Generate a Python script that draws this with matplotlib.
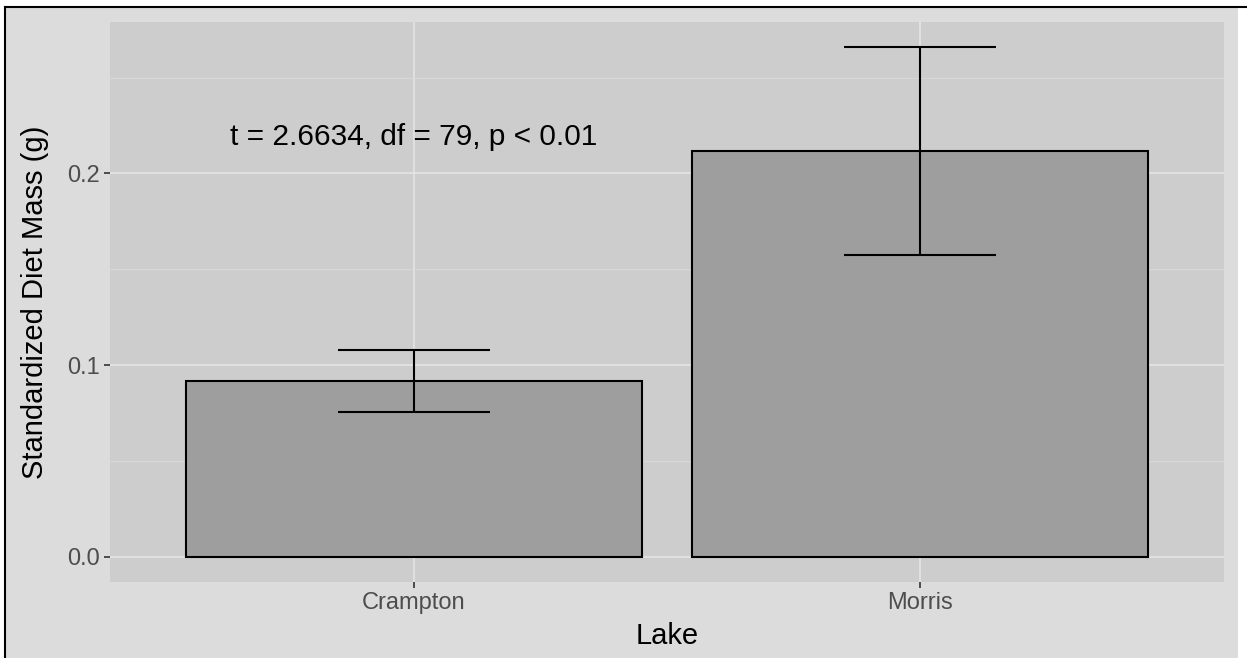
import matplotlib
matplotlib.use("Agg")
import matplotlib.pyplot as plt
from matplotlib.patches import Rectangle
from matplotlib.lines import Line2D
import numpy as np

plt.rcParams['font.family'] = ['Liberation Sans', 'DejaVu Sans']

lakes = ["Crampton", "Morris"]
means = [0.0916, 0.2115]
lower = [0.0754, 0.1576]
upper = [0.1079, 0.2658]
yticks = [0.0, 0.1, 0.2]
ytick_labels = ["0.0", "0.1", "0.2"]
minor_ticks = [0.05, 0.15, 0.25]
annot_text = "t = 2.6634, df = 79, p < 0.01"
annot_x, annot_y = 1.0, 0.219

W, H = 1247, 658
fig = plt.figure(figsize=(W / 100, H / 100), dpi=100, facecolor="white")

# outer background and border lines
fig.patches.append(Rectangle((5 / W, 0), (1238 - 5) / W, (H - 7) / H,
                             transform=fig.transFigure, facecolor="#dcdcdc",
                             edgecolor="none", zorder=-10))
fig.lines.append(Line2D([5 / W, 1], [(H - 7) / H] * 2, transform=fig.transFigure,
                        color="black", lw=1.5, zorder=-5))
fig.lines.append(Line2D([5 / W] * 2, [0, (H - 7) / H], transform=fig.transFigure,
                        color="black", lw=1.5, zorder=-5))

ax = fig.add_axes([110 / W, (H - 582) / H, 1114 / W, 560 / H])
ax.set_zorder(1)
ax.set_facecolor("#cdcdcd")
for s in ax.spines.values():
    s.set_visible(False)

x = np.arange(1, len(lakes) + 1)
ax.bar(x, means, width=0.9, color="#9e9e9e", edgecolor="black", linewidth=1.5, zorder=3)
err_low = np.array(means) - np.array(lower)
err_up = np.array(upper) - np.array(means)
ax.errorbar(x, means, yerr=[err_low, err_up], fmt="none", ecolor="black",
            elinewidth=1.5, capsize=0, zorder=4)
# caps width 0.3 in data units
for xi, lo, up in zip(x, lower, upper):
    ax.hlines([lo, up], xi - 0.15, xi + 0.15, colors="black", lw=1.5, zorder=4)

ymax = max(upper)
ax.set_xlim(0.4, 2.6)
ax.set_ylim(-0.05 * ymax, ymax * 1.05)

ax.set_xticks(x)
ax.set_xticklabels(lakes)
ax.set_yticks(yticks)
ax.set_yticklabels(ytick_labels)
ax.set_yticks(minor_ticks, minor=True)
ax.tick_params(axis="both", which="major", length=4, width=1.2, color="#333333",
               labelcolor="#4d4d4d", labelsize=17, pad=3)
ax.tick_params(axis="y", which="minor", length=0)
ax.grid(True, which="major", color="#e4e4e4", lw=1.2, zorder=0)
ax.grid(True, which="minor", axis="y", color="#d9d9d9", lw=0.7, zorder=0)
ax.set_axisbelow(True)

ax.set_xlabel("Lake", fontsize=21, color="black", labelpad=6)
ax.set_ylabel("Standardized Diet Mass (g)", fontsize=21, color="black", labelpad=13)

ax.text(annot_x, annot_y, annot_text, fontsize=21.5, ha="center", va="center",
        color="black", zorder=5)

fig.savefig("out.png", dpi=100, facecolor="white")
